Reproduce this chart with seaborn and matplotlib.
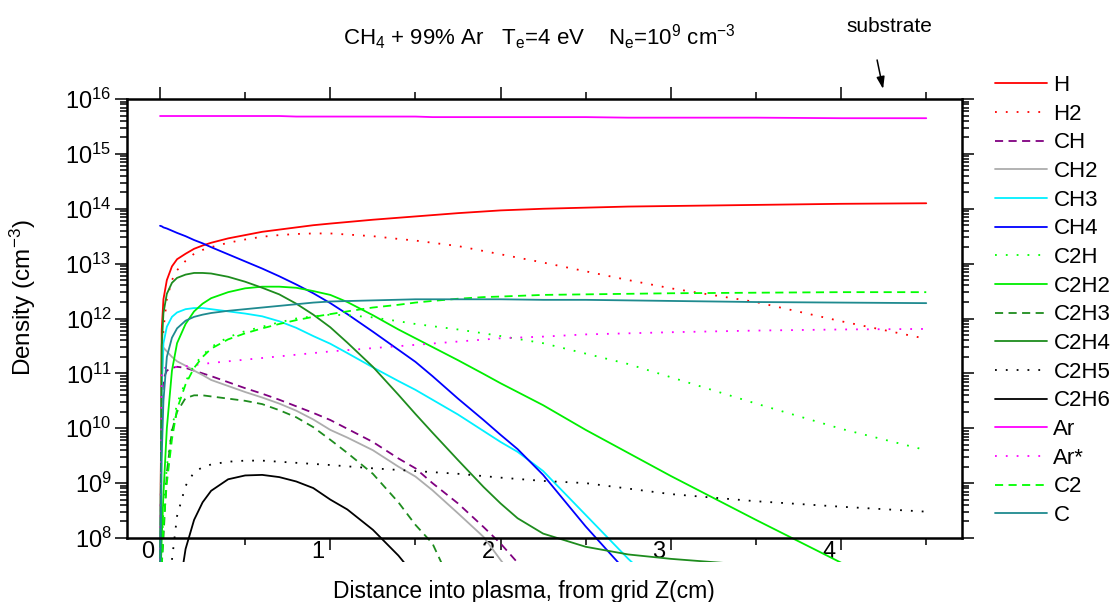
import numpy as np
import pandas as pd
import matplotlib
matplotlib.use("Agg")
import matplotlib.pyplot as plt
import seaborn as sns
from matplotlib.ticker import (MultipleLocator, FixedLocator, LogLocator, NullFormatter,
                               LogFormatterSciNotation)
from matplotlib.patches import Rectangle
from matplotlib.transforms import ScaledTranslation

nan = np.nan

# distance into plasma (cm)
x_cm = [0, 0.01, 0.02, 0.04, 0.07, 0.1, 0.15, 0.2, 0.25, 0.3, 0.4, 0.5, 0.6, 0.7, 0.8, 0.9,
        1.0, 1.1, 1.25, 1.4, 1.5, 1.6, 1.75, 1.9, 2.0, 2.1, 2.25, 2.5, 2.75, 3.0, 3.5, 4.0, 4.5]
x_ticks = [0, 1, 2, 3, 4]
y_tick_exponents = [8, 9, 10, 11, 12, 13, 14, 15, 16]

# log10 of density (cm^-3) (nan = no reading at that distance)
log_H = [7.0, 11.8, 12.35, 12.7, 12.95, 13.08, 13.18, 13.27, 13.33, 13.38, 13.46, 13.52, 13.58, 13.62, 13.66, 13.7,
         13.73, nan, 13.8, nan, 13.86, nan, 13.92, nan, 13.97, nan, 14.0, 14.02, 14.04, 14.05, 14.07, 14.09, 14.10]
log_H2 = [7.0, 11.0, 11.8, 12.35, 12.7, 12.88, 13.05, 13.18, 13.25, 13.3, 13.38, 13.44, 13.49, 13.52, 13.54, 13.55,
          13.55, 13.53, 13.5, 13.45, 13.42, nan, 13.32, nan, 13.17, nan, 13.02, 12.86, 12.7, 12.55, 12.3, 11.95, 11.63]
log_CH = [7.0, 10.5, 10.9, 11.05, 11.1, 11.12, 11.1, 11.05, 11.0, 10.95, 10.84, 10.73, 10.63, 10.52, 10.4, 10.28,
          10.15, 9.99, 9.75, 9.45, 9.27, 9.0, 8.63, 8.2, 7.9, 7.55, 7.0, nan, nan, nan, nan, nan, nan]
log_CH2 = [7.0, 10.8, 11.47, 11.4, 11.3, 11.22, 11.14, 11.05, 10.97, 10.88, 10.77, 10.66, 10.56, 10.45, 10.32, 10.16,
           9.97, 9.83, 9.6, 9.3, 9.12, 8.87, 8.45, 8.02, 7.6, 7.2, nan, nan, nan, nan, nan, nan, nan]
log_CH3 = [7.0, 10.8, 11.55, 11.85, 12.03, 12.11, 12.17, 12.19, 12.19, 12.17, 12.13, 12.09, 12.04, 11.95, 11.83, 11.68,
           11.54, 11.37, 11.11, 10.86, 10.7, 10.52, 10.25, 9.95, 9.75, 9.57, 9.22, 8.42, 7.62, 6.9, nan, nan, nan]
log_CH4 = [13.69, 13.68, 13.66, 13.64, 13.6, 13.56, 13.5, 13.43, 13.37, 13.3, 13.17, 13.04, 12.91, 12.77, 12.62, 12.46,
           12.28, 12.08, 11.76, 11.43, 11.21, 10.95, 10.54, 10.15, 9.88, 9.62, 9.15, 8.21, 7.35, nan, nan, nan, nan]
log_C2H = [7.0, 7.8, 8.5, 9.3, 10.0, 10.45, 10.85, 11.15, 11.33, 11.48, 11.66, 11.77, 11.85, 11.93, 12.0, 12.04,
           12.07, 12.06, 12.02, 11.95, 11.9, 11.86, 11.8, 11.73, 11.68, nan, 11.55, 11.36, 11.17, 10.93, 10.45, 9.99, 9.6]
log_C2H2 = [7.0, 8.0, 8.8, 10.0, 11.05, 11.55, 11.9, 12.13, 12.27, 12.37, 12.48, 12.55, 12.58, 12.58, 12.56, 12.5,
            12.43, 12.3, 12.06, 11.8, 11.64, 11.48, 11.24, 10.99, 10.82, 10.66, 10.42, 9.97, 9.55, 9.13, 8.33, 7.55, nan]
log_C2H3 = [7.0, 7.5, 8.0, 9.2, 9.95, 10.3, 10.55, 10.6, 10.6, 10.58, 10.54, 10.5, 10.44, 10.33, 10.2, 10.02,
            9.79, 9.55, 9.17, 8.65, 8.24, 7.9, 6.9, nan, nan, nan, nan, nan, nan, nan, nan, nan, nan]
log_C2H4 = [7.0, 11.5, 12.1, 12.45, 12.65, 12.74, 12.8, 12.83, 12.83, 12.82, 12.76, 12.67, 12.56, 12.44, 12.27, 12.07,
            11.84, 11.56, 11.12, 10.61, 10.26, 9.92, 9.42, 8.93, 8.63, 8.36, 8.08, 7.84, 7.7, 7.62, 7.5, nan, nan]
log_C2H5 = [nan, nan, nan, 6.5, 7.6, 8.4, 8.95, 9.2, 9.29, 9.34, 9.39, 9.41, 9.41, 9.39, 9.37, 9.35,
            9.33, nan, 9.27, nan, 9.22, nan, 9.17, nan, 9.1, nan, 9.04, 9.0, 8.9, 8.8, 8.67, 8.57, 8.48]
log_C2H6 = [nan, nan, nan, nan, nan, 6.8, 7.8, 8.33, 8.65, 8.86, 9.07, 9.14, 9.15, 9.11, 9.03, 8.91,
            8.7, 8.52, 8.15, 7.68, 7.3, nan, nan, nan, nan, nan, nan, nan, nan, nan, nan, nan, nan]
log_Ar = [15.69, 15.69, 15.69, 15.69, 15.69, 15.69, 15.69, 15.69, 15.69, 15.69, 15.69, 15.69, 15.69, 15.69, 15.68, 15.68,
          15.68, 15.68, 15.68, 15.68, 15.68, 15.67, 15.67, 15.67, 15.67, 15.67, 15.67, 15.67, 15.66, 15.66, 15.66, 15.65, 15.65]
log_Ar_star = [7.0, 11.1, 11.1, 11.1, 11.11, 11.12, 11.13, 11.15, 11.17, 11.19, 11.22, 11.25, 11.28, 11.31, 11.34, 11.37,
               11.4, nan, 11.46, nan, 11.52, nan, 11.58, nan, 11.64, nan, 11.67, 11.71, 11.73, 11.75, 11.78, 11.8, 11.81]
log_C2 = [7.0, 7.5, 8.2, 9.0, 9.8, 10.35, 10.8, 11.1, 11.3, 11.45, 11.62, 11.73, 11.82, 11.9, 11.97, 12.03,
          12.08, 12.13, 12.2, 12.25, 12.29, 12.32, 12.36, 12.39, 12.4, nan, 12.43, 12.44, 12.45, 12.46, 12.47, 12.48, 12.48]
log_C = [7.0, 9.5, 10.5, 11.3, 11.65, 11.82, 11.96, 12.03, 12.07, 12.1, 12.14, 12.17, 12.2, 12.23, 12.26, 12.29,
         12.31, nan, 12.33, nan, 12.35, nan, 12.35, nan, 12.35, nan, 12.34, 12.34, 12.33, 12.32, 12.3, 12.29, 12.28]

species = ["H", "H2", "CH", "CH2", "CH3", "CH4", "C2H", "C2H2", "C2H3", "C2H4",
           "C2H5", "C2H6", "Ar", "Ar*", "C2", "C"]
series = [log_H, log_H2, log_CH, log_CH2, log_CH3, log_CH4, log_C2H, log_C2H2, log_C2H3,
          log_C2H4, log_C2H5, log_C2H6, log_Ar, log_Ar_star, log_C2, log_C]
for vals in series:
    assert len(vals) == len(x_cm)

colors = {"H": "#FF0000", "H2": "#FF0000", "CH": "#800080", "CH2": "#ADADAD",
          "CH3": "#00F0FF", "CH4": "#0000FF", "C2H": "#00FF00", "C2H2": "#00EE00",
          "C2H3": "#1E8C1E", "C2H4": "#1E8C1E", "C2H5": "#000000", "C2H6": "#000000",
          "Ar": "#FF00FF", "Ar*": "#FF00FF", "C2": "#00FF00", "C": "#1F8A8F"}
DOT = (1.0, 5.0)
DASH = (4.5, 3.0)
SOLID = ""
dashes = {"H": SOLID, "H2": DOT, "CH": DASH, "CH2": SOLID, "CH3": SOLID, "CH4": SOLID,
          "C2H": DOT, "C2H2": SOLID, "C2H3": DASH, "C2H4": SOLID, "C2H5": DOT,
          "C2H6": SOLID, "Ar": SOLID, "Ar*": DOT, "C2": DASH, "C": SOLID}

rows = []
for sp, vals in zip(species, series):
    for xv, lv in zip(x_cm, vals):
        if not np.isnan(lv):
            rows.append((sp, xv, 10.0 ** lv))
df = pd.DataFrame(rows, columns=["species", "z", "density"])

sns.set_theme(style="ticks")
plt.rcParams.update({
    "font.family": ["Liberation Sans", "DejaVu Sans"],
    "mathtext.fontset": "custom",
    "mathtext.rm": "Liberation Sans",
    "mathtext.it": "Liberation Sans:italic",
    "mathtext.bf": "Liberation Sans:bold",
    "mathtext.default": "regular",
    "axes.edgecolor": "black", "xtick.color": "black", "ytick.color": "black",
    "text.color": "black", "axes.labelcolor": "black",
})

fig = plt.figure(figsize=(11.12, 6.02), dpi=100)
fig.patch.set_facecolor("white")
ax = fig.add_axes([127 / 1112, 1 - 538 / 602, 835 / 1112, 439 / 602])

sns.lineplot(data=df, x="z", y="density", hue="species", style="species",
             hue_order=species, style_order=species, palette=colors, dashes=dashes,
             estimator=None, sort=False, linewidth=1.3, ax=ax, legend="full")

ax.set_yscale("log")
ax.set_xlim(-0.194, 4.71)
ax.set_ylim(1e8, 1e16)

# curves continue a little below the bottom axis, as in the original
clip_rect = Rectangle((0, -0.0547), 1, 1.0547, transform=ax.transAxes)
for ln in ax.lines:
    ln.set_clip_path(clip_rect)

ax.xaxis.set_major_locator(FixedLocator(x_ticks))
ax.xaxis.set_minor_locator(MultipleLocator(0.5))
ax.yaxis.set_major_locator(FixedLocator([10.0 ** e for e in y_tick_exponents]))
ax.yaxis.set_minor_locator(LogLocator(base=10, subs=np.arange(2, 10), numticks=200))
ax.yaxis.set_major_formatter(LogFormatterSciNotation())
ax.yaxis.set_minor_formatter(NullFormatter())

for s in ax.spines.values():
    s.set_linewidth(1.8)
    s.set_color("black")

ax.tick_params(which="both", direction="out", top=True, right=True,
               labeltop=False, labelright=False, width=1.1, labelsize=17)
ax.tick_params(which="major", length=8.6)
ax.tick_params(which="minor", length=4.7)
ax.tick_params(axis="x", which="major", pad=-6.2)
ax.tick_params(axis="y", which="major", pad=2.5)

for lbl in ax.get_xticklabels():
    lbl.set_transform(lbl.get_transform() + ScaledTranslation(-12 / 100, 0, fig.dpi_scale_trans))

ax.set_xlabel("Distance into plasma, from grid Z(cm)", fontsize=16.5)
ax.xaxis.set_label_coords(0.4754, -0.0957)
ax.set_ylabel("Density (cm$^{-3}$)", fontsize=17.5)
ax.yaxis.set_label_coords(-0.106, 0.547)

fig.text(539 / 1112, 1 - 37 / 602,
         r"CH$_4$ + 99% Ar   T$_e$=4 eV    N$_e$=10$^9$ cm$^{-3}$",
         ha="center", va="center", fontsize=16)
fig.text(889 / 1112, 1 - 27 / 602, "substrate", ha="center", va="center", fontsize=15)
ax.annotate("", xy=((883 - 160) / 170.25, (538 - 89) / 439), xycoords=("data", "axes fraction"),
            xytext=((877 - 160) / 170.25, (538 - 60) / 439), textcoords=("data", "axes fraction"),
            arrowprops=dict(arrowstyle="-|>,head_length=0.6,head_width=0.2", color="black",
                            lw=1.1, shrinkA=0, shrinkB=0), annotation_clip=False)

leg = ax.get_legend()
handles = leg.legend_handles
labels = [t.get_text() for t in leg.get_texts()]
leg.remove()
fig.legend(handles, labels, loc="upper left", bbox_to_anchor=(995 / 1112, 1 - 75 / 602),
           frameon=False, fontsize=16, handlelength=2.35, handletextpad=0.28,
           labelspacing=0.345, borderpad=0, borderaxespad=0)

fig.savefig("out.png", dpi=100, facecolor="white")
